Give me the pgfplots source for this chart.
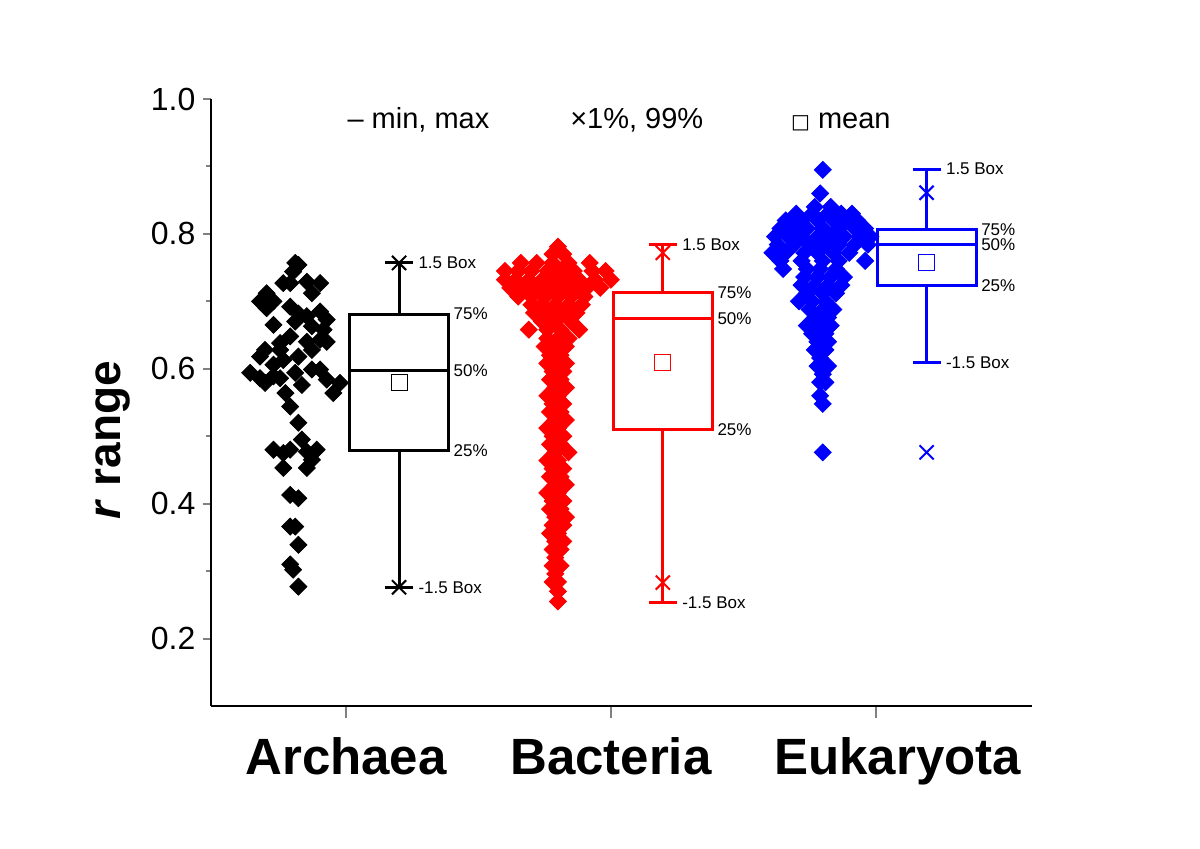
\documentclass[border=0pt]{standalone}
\usepackage{fontspec}
\setmainfont{Liberation Sans}
\newfontfamily\dejavu{DejaVu Sans}
\usepackage{pgfplots}
\pgfplotsset{compat=1.18}

\tikzset{
  lbl/.style={anchor=west, inner sep=0pt, font=\fontsize{8.5}{10}\selectfont},
  leg/.style={anchor=base west, inner sep=0pt, font=\fontsize{14.5}{17}\selectfont},
}

\begin{document}
\begin{tikzpicture}
\path[use as bounding box] (0,0) rectangle (600pt,424pt);
\begin{axis}[
  at={(105.5pt,71pt)}, anchor=south west,
  scale only axis, width=410.5pt, height=303.5pt,
  xmin=0.49, xmax=3.59, ymin=0.1, ymax=1.0,
  axis lines=left,
  axis line style={-, line width=1pt},
  tick align=outside,
  xtick={1,2,3},
  xticklabels={Archaea,Bacteria,\hspace{22pt}Eukaryota},
  xticklabel style={font=\fontsize{25.5}{30}\selectfont\bfseries, yshift=-8pt},
  xtick style={line width=1pt, /pgfplots/major tick length=6pt},
  ytick={0.2,0.4,0.6,0.8,1.0},
  minor ytick={0.3,0.5,0.7,0.9},
  ytick style={line width=1pt, /pgfplots/major tick length=4pt, /pgfplots/minor tick length=2.5pt},
  yticklabel style={font=\fontsize{16}{19}\selectfont,
    /pgf/number format/.cd, fixed, fixed zerofill, precision=1, assume math mode=true},
  ylabel={\textbf{\textit{r} range}},
  every axis y label/.style={at={(axis description cs:-0.119,0.438)}, rotate=90, anchor=center,
    font=\fontsize{23}{27}\selectfont},
  clip=false,
  unbounded coords=jump,
]
% ---- scatter: Archaea
\addplot[only marks, mark=square*, mark size=3pt, mark options={rotate=45, fill=black, draw=black}] coordinates {
(0.808,0.757)(0.820,0.754)(0.800,0.744)
(0.763,0.727)(0.789,0.727)(0.852,0.729)(0.902,0.727)(0.871,0.712)
(0.700,0.712)(0.675,0.700)(0.700,0.690)(0.726,0.700)
(0.789,0.692)(0.820,0.682)(0.902,0.685)(0.927,0.673)(0.852,0.678)(0.808,0.670)
(0.726,0.665)(0.871,0.663)(0.915,0.658)
(0.789,0.648)(0.751,0.638)(0.852,0.640)(0.902,0.643)(0.871,0.628)(0.820,0.618)(0.927,0.640)
(0.694,0.628)(0.675,0.618)(0.726,0.606)(0.751,0.628)(0.763,0.613)
(0.638,0.594)(0.675,0.586)(0.694,0.579)(0.726,0.589)(0.751,0.586)(0.808,0.594)
(0.833,0.576)(0.871,0.599)(0.902,0.599)(0.927,0.584)(0.977,0.579)(0.952,0.564)
(0.771,0.564)(0.789,0.544)(0.820,0.520)(0.833,0.495)
(0.726,0.480)(0.763,0.475)(0.789,0.480)(0.852,0.477)(0.889,0.480)
(0.763,0.453)(0.852,0.453)(0.871,0.465)
(0.789,0.413)(0.820,0.408)
(0.789,0.366)(0.808,0.366)
(0.820,0.339)
(0.789,0.310)(0.800,0.302)
(0.820,0.277)
};
% ---- scatter: Bacteria
\addplot[only marks, mark=square*, mark size=3pt, mark options={rotate=45, fill=red, draw=red}] coordinates {
(1.80,0.781)
(1.78,0.770)(1.82,0.770)
(1.66,0.757)(1.72,0.757)(1.78,0.757)(1.84,0.757)(1.92,0.757)
(1.60,0.745)(1.65,0.745)(1.70,0.745)(1.76,0.745)(1.81,0.745)(1.86,0.745)(1.93,0.745)(1.98,0.745)
(1.60,0.732)(1.64,0.732)(1.69,0.732)(1.74,0.732)(1.79,0.732)(1.84,0.732)(1.88,0.732)(1.94,0.732)(2.00,0.732)
(1.62,0.720)(1.67,0.720)(1.72,0.720)(1.77,0.720)(1.82,0.720)(1.87,0.720)(1.91,0.720)(1.96,0.720)
(1.65,0.707)(1.70,0.707)(1.75,0.707)(1.80,0.707)(1.85,0.707)(1.90,0.707)
(1.70,0.695)(1.74,0.695)(1.79,0.695)(1.84,0.695)(1.89,0.695)
(1.71,0.683)(1.76,0.683)(1.82,0.683)(1.87,0.683)
(1.74,0.670)(1.79,0.670)(1.85,0.670)
(1.69,0.658)(1.76,0.658)(1.81,0.658)(1.88,0.658)
(1.76,0.645)(1.80,0.645)(1.84,0.645)
(1.75,0.633)(1.79,0.633)(1.83,0.633)
(1.77,0.620)(1.81,0.620)
(1.76,0.608)(1.80,0.608)(1.83,0.608)
(1.78,0.596)(1.82,0.596)
(1.77,0.584)(1.81,0.584)
(1.79,0.572)(1.83,0.572)
(1.76,0.560)(1.80,0.560)
(1.78,0.548)(1.82,0.548)
(1.77,0.536)(1.81,0.536)
(1.79,0.524)(1.83,0.524)
(1.76,0.512)(1.80,0.512)
(1.78,0.500)(1.82,0.500)
(1.77,0.488)(1.81,0.488)
(1.79,0.476)(1.84,0.476)
(1.76,0.464)(1.80,0.464)
(1.78,0.452)(1.82,0.452)
(1.77,0.440)(1.81,0.440)
(1.79,0.428)(1.83,0.428)
(1.76,0.416)(1.80,0.416)
(1.78,0.404)(1.82,0.404)
(1.77,0.392)(1.81,0.392)
(1.79,0.380)(1.83,0.380)
(1.78,0.368)(1.82,0.368)
(1.77,0.356)(1.80,0.356)
(1.79,0.344)(1.82,0.344)
(1.78,0.332)(1.81,0.332)
(1.79,0.320)
(1.78,0.308)(1.81,0.308)
(1.79,0.296)
(1.78,0.284)(1.80,0.284)
(1.80,0.270)
(1.80,0.255)
};
% ---- scatter: Eukaryota
\addplot[only marks, mark=square*, mark size=3pt, mark options={rotate=45, fill=blue, draw=blue}] coordinates {
(2.80,0.895)
(2.79,0.860)
(2.77,0.840)(2.83,0.840)
(2.70,0.830)(2.76,0.830)(2.82,0.830)(2.87,0.830)(2.91,0.830)
(2.66,0.820)(2.72,0.820)(2.78,0.820)(2.84,0.820)(2.89,0.820)(2.93,0.820)
(2.64,0.808)(2.69,0.808)(2.74,0.808)(2.80,0.808)(2.86,0.808)(2.92,0.808)(2.96,0.808)
(2.62,0.796)(2.67,0.796)(2.72,0.796)(2.78,0.796)(2.83,0.796)(2.88,0.796)(2.94,0.796)(2.98,0.796)
(2.63,0.784)(2.69,0.784)(2.75,0.784)(2.81,0.784)(2.86,0.784)(2.92,0.784)(2.97,0.784)
(2.61,0.772)(2.66,0.772)(2.73,0.772)(2.78,0.772)(2.84,0.772)(2.90,0.772)
(2.64,0.760)(2.72,0.760)(2.80,0.760)(2.86,0.760)(2.96,0.760)
(2.65,0.748)(2.74,0.748)(2.79,0.748)(2.85,0.748)
(2.73,0.736)(2.78,0.736)(2.83,0.736)(2.88,0.736)
(2.72,0.724)(2.77,0.724)(2.82,0.724)(2.87,0.724)
(2.74,0.712)(2.80,0.712)(2.85,0.712)
(2.71,0.700)(2.76,0.700)(2.81,0.700)
(2.75,0.688)(2.80,0.688)(2.84,0.688)
(2.77,0.676)(2.82,0.676)
(2.74,0.664)(2.79,0.664)(2.83,0.664)
(2.76,0.652)(2.81,0.652)
(2.78,0.640)(2.82,0.640)
(2.77,0.628)(2.81,0.628)
(2.79,0.616)
(2.78,0.604)(2.82,0.604)
(2.80,0.592)
(2.79,0.580)(2.81,0.580)
(2.79,0.560)
(2.80,0.548)
(2.80,0.476)
};
% ---- boxes (quartiles)
\addplot[black, line width=1.5pt, line join=miter] coordinates {(1.013,0.479)(1.387,0.479)(1.387,0.681)(1.013,0.681)} -- cycle;
\addplot[red, line width=1.5pt, line join=miter] coordinates {(2.009,0.510)(2.383,0.510)(2.383,0.713)(2.009,0.713)} -- cycle;
\addplot[blue, line width=1.5pt, line join=miter] coordinates {(3.005,0.724)(3.379,0.724)(3.379,0.806)(3.005,0.806)} -- cycle;
% ---- medians, whiskers, caps
\addplot[black, line width=1.5pt] coordinates {
(1.013,0.597)(1.387,0.597)(1.2,nan)
(1.2,0.681)(1.2,0.757)(1.2,nan)
(1.1475,0.757)(1.2525,0.757)(1.2,nan)
(1.2,0.479)(1.2,0.276)(1.2,nan)
(1.1475,0.276)(1.2525,0.276)};
\addplot[red, line width=1.5pt] coordinates {
(2.009,0.674)(2.383,0.674)(2.2,nan)
(2.196,0.713)(2.196,0.784)(2.2,nan)
(2.1435,0.784)(2.2485,0.784)(2.2,nan)
(2.196,0.510)(2.196,0.253)(2.2,nan)
(2.1435,0.253)(2.2485,0.253)};
\addplot[blue, line width=1.5pt] coordinates {
(3.005,0.784)(3.379,0.784)(3.2,nan)
(3.192,0.806)(3.192,0.896)(3.2,nan)
(3.1395,0.896)(3.2445,0.896)(3.2,nan)
(3.192,0.724)(3.192,0.609)(3.2,nan)
(3.1395,0.609)(3.2445,0.609)};
% ---- 1% / 99%
\addplot[only marks, mark=x, mark size=5pt, black, line width=1pt] coordinates {(1.2,0.757)(1.2,0.276)};
\addplot[only marks, mark=x, mark size=5pt, red, line width=1pt] coordinates {(2.196,0.772)(2.196,0.283)};
\addplot[only marks, mark=x, mark size=5pt, blue, line width=1pt] coordinates {(3.192,0.861)(3.192,0.476)};
% ---- means
\addplot[only marks, mark=square, mark size=4pt, black, line width=0.5pt] coordinates {(1.2,0.579)};
\addplot[only marks, mark=square, mark size=4pt, red, line width=0.5pt] coordinates {(2.196,0.610)};
\addplot[only marks, mark=square, mark size=4pt, blue, line width=0.5pt] coordinates {(3.192,0.757)};
% ---- box labels
\node[lbl] at (axis cs:1.272,0.757) {1.5 Box};
\node[lbl] at (axis cs:1.272,0.276) {-1.5 Box};
\node[lbl] at (axis cs:1.405,0.681) {75\%};
\node[lbl] at (axis cs:1.405,0.597) {50\%};
\node[lbl] at (axis cs:1.405,0.479) {25\%};
\node[lbl] at (axis cs:2.268,0.784) {1.5 Box};
\node[lbl] at (axis cs:2.268,0.253) {-1.5 Box};
\node[lbl] at (axis cs:2.401,0.713) {75\%};
\node[lbl] at (axis cs:2.401,0.674) {50\%};
\node[lbl] at (axis cs:2.401,0.510) {25\%};
\node[lbl] at (axis cs:3.264,0.896) {1.5 Box};
\node[lbl] at (axis cs:3.264,0.609) {-1.5 Box};
\node[lbl] at (axis cs:3.397,0.806) {75\%};
\node[lbl] at (axis cs:3.397,0.784) {50\%};
\node[lbl] at (axis cs:3.397,0.724) {25\%};
% ---- key
\node[leg] at (axis cs:1.004,0.956) {– min, max};
\node[leg] at (axis cs:1.845,0.956) {×1\%, 99\%};
\node[leg] at (axis cs:2.679,0.956) {{\dejavu\fontsize{10}{12}\selectfont □}\hspace{4pt}mean};
\end{axis}
\end{tikzpicture}
\end{document}
